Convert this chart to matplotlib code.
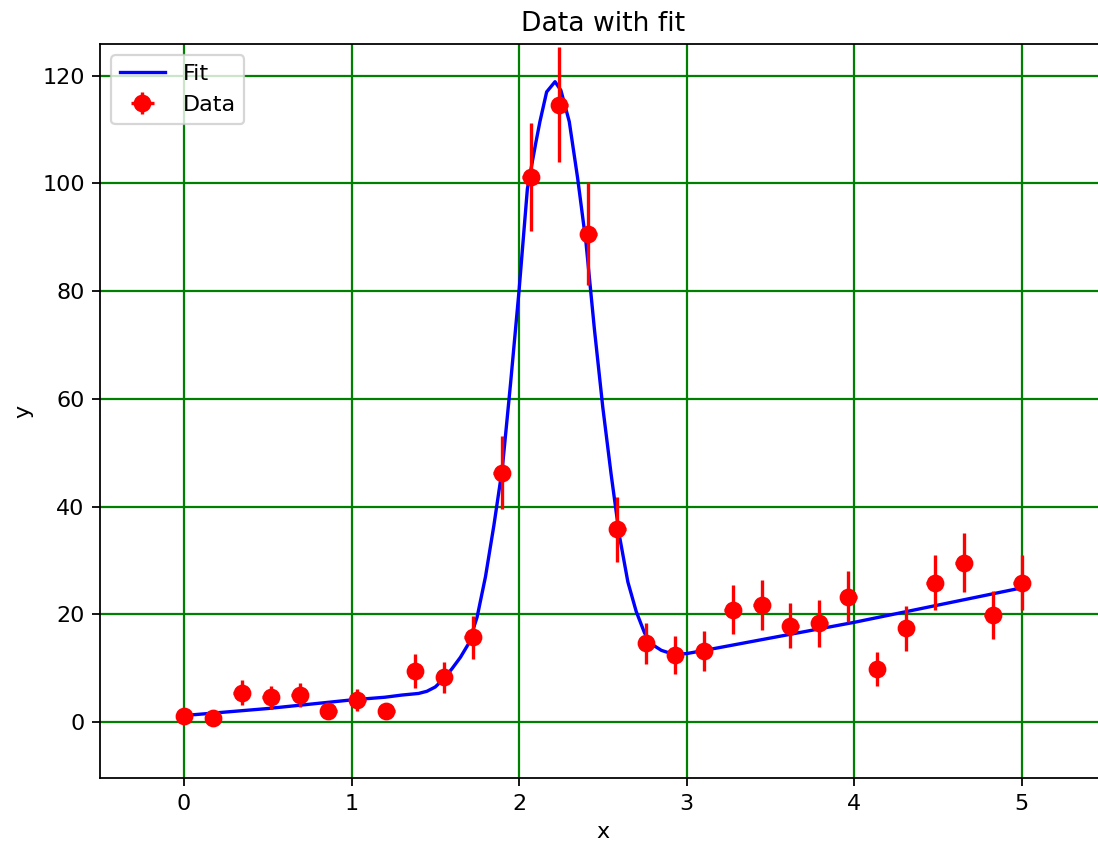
import numpy as np
import matplotlib
matplotlib.use("Agg")
import matplotlib.pyplot as plt

# measured points (30 samples on 0..5)
x_data = np.linspace(0, 5, 30)
y_data = [1.2, 0.7, 5.45, 4.6, 5.0, 1.95, 4.1, 1.95, 9.5, 8.3,
          15.7, 46.3, 101.2, 114.6, 90.7, 35.8, 14.6, 12.5, 13.2, 20.8,
          21.7, 17.9, 18.3, 23.3, 9.9, 17.4, 25.9, 29.6, 19.9, 25.9]
y_err = [1.1, 0.85, 2.35, 2.15, 2.25, 1.4, 2.0, 1.4, 3.1, 2.9,
         4.0, 6.8, 10.05, 10.7, 9.5, 6.0, 3.8, 3.55, 3.65, 4.55,
         4.65, 4.25, 4.3, 4.8, 3.15, 4.2, 5.1, 5.45, 4.45, 5.1]
x_err = 0.05

# fitted curve
fit_x = [0.0, 0.5, 1.0, 1.2, 1.3, 1.4, 1.45, 1.5, 1.55, 1.6,
         1.65, 1.7, 1.75, 1.8, 1.85, 1.9, 1.95, 2.0, 2.05, 2.1,
         2.125, 2.165, 2.215, 2.25, 2.3, 2.35, 2.4, 2.45, 2.5, 2.55,
         2.6, 2.65, 2.7, 2.75, 2.8, 2.85, 2.9, 2.95, 3.0, 3.09,
         4.0, 5.0]
fit_y = [1.2, 2.5, 4.1, 4.6, 5.0, 5.3, 5.7, 6.5, 8.0, 9.9,
         12.0, 14.6, 19.5, 27.0, 36.5, 47.0, 63.0, 80.0, 99.0, 107.5,
         111.5, 117.0, 118.9, 117.3, 111.5, 101.0, 89.0, 73.0, 58.5, 46.0,
         34.5, 26.0, 20.5, 16.5, 14.3, 13.3, 12.8, 12.6, 12.7, 13.2,
         18.5, 24.9]

fig = plt.figure(figsize=(1098 / 160, 848 / 160), dpi=160)
ax = fig.add_axes([100.25 / 1098, 70 / 848, 1005 / 1098, 734 / 848])

ax.plot(fit_x, fit_y, 'b-', label='Fit')
ax.errorbar(x_data, y_data, yerr=y_err, xerr=x_err, fmt='ro',
            markersize=7, label='Data')

ax.set_xlim(-0.5, 5.5)
ax.set_ylim(-10.4, 125.9)
ax.set_xticks([0, 1, 2, 3, 4, 5])
ax.set_yticks([0, 20, 40, 60, 80, 100, 120])
ax.grid(color='g', linewidth=1)

ax.set_title('Data with fit')
ax.set_xlabel('x')
ax.set_ylabel('y')
ax.legend(loc='upper left')

fig.savefig('out.png', dpi=160)
